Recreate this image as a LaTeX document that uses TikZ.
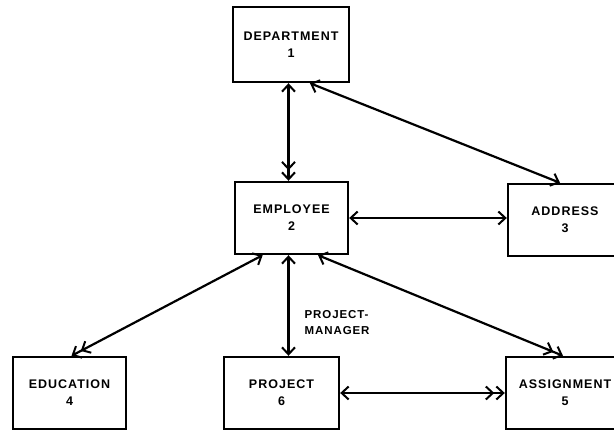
\documentclass[tikz,border=0pt]{standalone}
\usepackage{fontspec}
\newfontfamily\boxfont{Liberation Sans}[LetterSpace=8]
\usetikzlibrary{arrows.meta,calc}
\tikzset{
  sb/.tip={Straight Barb[length=7pt,width=13pt,line width=2pt]},
  db/.tip={Straight Barb[length=7pt,width=13pt,line width=2pt,sep=1pt] Straight Barb[length=7pt,width=13pt,line width=2pt]},
  entity/.style={draw, line width=2.4pt, inner sep=0pt, minimum height=72pt,
    align=center, font=\boxfont\bfseries\fontsize{12.5}{17}\selectfont},
  rel/.style={line width=2.2pt},
  lbl/.style={font=\boxfont\bfseries\fontsize{11.5}{16}\selectfont, align=left, inner sep=0pt}
}
\begin{document}
\begin{tikzpicture}[x=1pt,y=-1pt]
\useasboundingbox (0,0) rectangle (614,431);
\clip (0,0) rectangle (614,431);
\node[entity, minimum width=116pt, minimum height=75pt] (dept) at (291,44.5) {DEPARTMENT\\1};
\node[entity, minimum width=113pt] (emp) at (291.5,218) {EMPLOYEE\\2};
\node[entity, minimum width=114pt] (addr) at (565,220) {ADDRESS\\3};
\node[entity, minimum width=113pt] (edu) at (69.5,393) {EDUCATION\\4};
\node[entity, minimum width=115pt] (proj) at (281.5,393) {PROJECT\\6};
\node[entity, minimum width=118pt] (asg) at (565,393) {ASSIGNMENT\\5};

\draw[rel, {sb}-{db}] ([xshift=-3pt]emp.north |- dept.south) -- ([xshift=-3pt]emp.north);
\draw[rel, {sb}-{sb}] ($(dept.south west)!0.66!(dept.south east)$) -- ([xshift=-5pt]addr.north);
\draw[rel, {sb}-{sb}] (emp.east) -- (emp.east -| addr.west);
\draw[rel, {sb}-{db}] ($(emp.south west)!0.25!(emp.south east)$) -- ([xshift=2pt]edu.north);
\draw[rel, {sb}-{sb}] ([xshift=-3pt]emp.south) -- ([xshift=-3pt]emp.south |- proj.north)
  node[lbl, pos=0.67, right=15pt] (pm) {PROJECT-\\MANAGER};
\draw[rel, {sb}-{db}] ($(emp.south west)!0.73!(emp.south east)$) -- ([xshift=-2pt]asg.north);
\draw[rel, {sb}-{db}] (proj.east) -- (asg.west);
\end{tikzpicture}
\end{document}
